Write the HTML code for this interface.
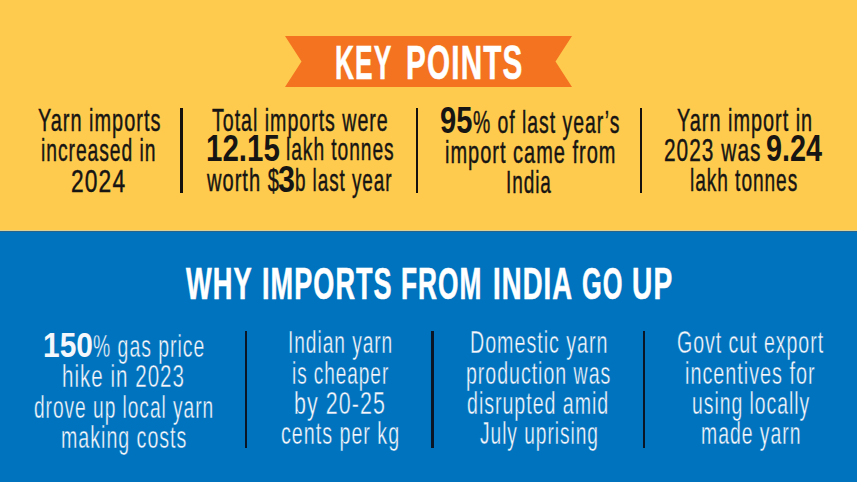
<!DOCTYPE html>
<html><head><meta charset="utf-8"><style>
html,body{margin:0;padding:0;}
body{width:857px;height:482px;overflow:hidden;position:relative;font-family:"Liberation Sans",sans-serif;background:#0073be;}
.top{position:absolute;left:0;top:0;width:857px;height:231px;background:#fecb4e;}
.bot{position:absolute;left:0;top:231px;width:857px;height:251px;background:#0073be;}
.t{position:absolute;white-space:nowrap;transform-origin:0 0;}
.b{font-weight:bold;}
.tw{-webkit-text-stroke:0.4px #0073be;}
.ty{-webkit-text-stroke:0.2px #fecb4e;}
.d{position:absolute;width:2.5px;}
svg{position:absolute;left:0;top:0;}
</style></head><body>
<div class="top"></div>
<div class="bot"></div>
<div style="position:absolute;left:0;top:230px;width:857px;height:1px;background:#d9cf98"></div>
<div style="position:absolute;left:0;top:231px;width:857px;height:1px;background:#2a6388"></div>
<svg width="857" height="482"><polygon points="285,36 572,36 555.5,61.5 572,87 285,87 301.5,61.5" fill="#f37321"/></svg>
<div class="d" style="left:180.45px;top:108.3px;height:85.1px;background:#14110e"></div>
<div class="d" style="left:415.95px;top:108.3px;height:85.1px;background:#14110e"></div>
<div class="d" style="left:639.75px;top:108.3px;height:85.1px;background:#14110e"></div>
<div class="d" style="left:244.95px;top:330.6px;height:117.3px;background:#0a1526"></div>
<div class="d" style="left:431.15px;top:330.6px;height:117.3px;background:#0a1526"></div>
<div class="d" style="left:642.55px;top:330.6px;height:117.3px;background:#0a1526"></div>
<div class="t" style="left:37.55px;top:89.50px;font-size:30.50px;line-height:61.00px;color:#171513;letter-spacing:1.525px;transform:scaleX(0.6530);-webkit-text-stroke:0.45px #171513">Yarn imports</div>
<div class="t" style="left:41.44px;top:119.80px;font-size:30.50px;line-height:61.00px;color:#171513;letter-spacing:1.525px;transform:scaleX(0.6316);-webkit-text-stroke:0.45px #171513">increased in</div>
<div class="t" style="left:70.61px;top:151.00px;font-size:30.50px;line-height:61.00px;color:#171513;letter-spacing:1.525px;transform:scaleX(0.7471);-webkit-text-stroke:0.45px #171513">2024</div>
<div class="t" style="left:212.16px;top:89.50px;font-size:30.50px;line-height:61.00px;color:#171513;letter-spacing:1.525px;transform:scaleX(0.6428);-webkit-text-stroke:0.45px #171513">Total imports were</div>
<div class="t b" style="left:206.38px;top:111.50px;font-size:36.50px;line-height:73.00px;color:#171513;letter-spacing:0.000px;transform:scaleX(0.8080);">12.15</div>
<div class="t" style="left:285.74px;top:119.30px;font-size:30.50px;line-height:61.00px;color:#171513;letter-spacing:1.525px;transform:scaleX(0.6286);-webkit-text-stroke:0.45px #171513">lakh tonnes</div>
<div class="t" style="left:206.60px;top:150.00px;font-size:30.50px;line-height:61.00px;color:#171513;letter-spacing:1.525px;transform:scaleX(0.6578);-webkit-text-stroke:0.45px #171513">worth $</div>
<div class="t b" style="left:278.47px;top:142.50px;font-size:36.50px;line-height:73.00px;color:#171513;letter-spacing:0.000px;transform:scaleX(0.8333);">3</div>
<div class="t" style="left:295.06px;top:150.00px;font-size:30.50px;line-height:61.00px;color:#171513;letter-spacing:1.525px;transform:scaleX(0.6182);-webkit-text-stroke:0.45px #171513">b last year</div>
<div class="t b" style="left:439.50px;top:84.20px;font-size:36.50px;line-height:73.00px;color:#171513;letter-spacing:0.000px;transform:scaleX(0.7974);">95</div>
<div class="t" style="left:473.16px;top:92.00px;font-size:30.50px;line-height:61.00px;color:#171513;letter-spacing:1.525px;transform:scaleX(0.6360);-webkit-text-stroke:0.45px #171513">% of last year’s</div>
<div class="t" style="left:444.89px;top:122.00px;font-size:30.50px;line-height:61.00px;color:#171513;letter-spacing:1.525px;transform:scaleX(0.6555);-webkit-text-stroke:0.45px #171513">import came from</div>
<div class="t" style="left:506.13px;top:151.80px;font-size:30.50px;line-height:61.00px;color:#171513;letter-spacing:1.525px;transform:scaleX(0.6217);-webkit-text-stroke:0.45px #171513">India</div>
<div class="t" style="left:677.35px;top:89.90px;font-size:30.50px;line-height:61.00px;color:#171513;letter-spacing:1.525px;transform:scaleX(0.6517);-webkit-text-stroke:0.45px #171513">Yarn import in</div>
<div class="t" style="left:663.63px;top:119.60px;font-size:30.50px;line-height:61.00px;color:#171513;letter-spacing:1.525px;transform:scaleX(0.6826);-webkit-text-stroke:0.45px #171513">2023 was</div>
<div class="t b" style="left:766.31px;top:112.00px;font-size:36.50px;line-height:73.00px;color:#171513;letter-spacing:0.000px;transform:scaleX(0.7886);">9.24</div>
<div class="t" style="left:690.15px;top:149.90px;font-size:30.50px;line-height:61.00px;color:#171513;letter-spacing:1.525px;transform:scaleX(0.6262);-webkit-text-stroke:0.45px #171513">lakh tonnes</div>
<div class="t b" style="left:42.81px;top:309.50px;font-size:35.50px;line-height:71.00px;color:#f4f7fb;letter-spacing:0.000px;transform:scaleX(0.8429);">150</div>
<div class="t tw" style="left:92.76px;top:315.50px;font-size:30.50px;line-height:61.00px;color:#f4f7fb;letter-spacing:1.525px;transform:scaleX(0.6372);">% gas price</div>
<div class="t tw" style="left:61.66px;top:346.40px;font-size:30.50px;line-height:61.00px;color:#f4f7fb;letter-spacing:1.525px;transform:scaleX(0.6725);">hike in 2023</div>
<div class="t tw" style="left:33.87px;top:376.70px;font-size:30.50px;line-height:61.00px;color:#f4f7fb;letter-spacing:1.525px;transform:scaleX(0.6284);">drove up local yarn</div>
<div class="t tw" style="left:60.71px;top:406.50px;font-size:30.50px;line-height:61.00px;color:#f4f7fb;letter-spacing:1.525px;transform:scaleX(0.6437);">making costs</div>
<div class="t tw" style="left:287.52px;top:312.20px;font-size:30.50px;line-height:61.00px;color:#f4f7fb;letter-spacing:1.525px;transform:scaleX(0.6273);">Indian yarn</div>
<div class="t tw" style="left:291.55px;top:342.70px;font-size:30.50px;line-height:61.00px;color:#f4f7fb;letter-spacing:1.525px;transform:scaleX(0.6230);">is cheaper</div>
<div class="t tw" style="left:293.79px;top:373.00px;font-size:30.50px;line-height:61.00px;color:#f4f7fb;letter-spacing:1.525px;transform:scaleX(0.7032);">by 20-25</div>
<div class="t tw" style="left:281.45px;top:403.20px;font-size:30.50px;line-height:61.00px;color:#f4f7fb;letter-spacing:1.525px;transform:scaleX(0.6456);">cents per kg</div>
<div class="t tw" style="left:469.61px;top:312.20px;font-size:30.50px;line-height:61.00px;color:#f4f7fb;letter-spacing:1.525px;transform:scaleX(0.6450);">Domestic yarn</div>
<div class="t tw" style="left:465.82px;top:342.70px;font-size:30.50px;line-height:61.00px;color:#f4f7fb;letter-spacing:1.525px;transform:scaleX(0.6414);">production was</div>
<div class="t tw" style="left:467.36px;top:372.80px;font-size:30.50px;line-height:61.00px;color:#f4f7fb;letter-spacing:1.525px;transform:scaleX(0.6424);">disrupted amid</div>
<div class="t tw" style="left:479.57px;top:403.00px;font-size:30.50px;line-height:61.00px;color:#f4f7fb;letter-spacing:1.525px;transform:scaleX(0.6281);">July uprising</div>
<div class="t tw" style="left:676.72px;top:312.20px;font-size:30.50px;line-height:61.00px;color:#f4f7fb;letter-spacing:1.525px;transform:scaleX(0.6403);">Govt cut export</div>
<div class="t tw" style="left:685.40px;top:342.70px;font-size:30.50px;line-height:61.00px;color:#f4f7fb;letter-spacing:1.525px;transform:scaleX(0.6492);">incentives for</div>
<div class="t tw" style="left:691.83px;top:372.80px;font-size:30.50px;line-height:61.00px;color:#f4f7fb;letter-spacing:1.525px;transform:scaleX(0.6352);">using locally</div>
<div class="t tw" style="left:701.43px;top:403.00px;font-size:30.50px;line-height:61.00px;color:#f4f7fb;letter-spacing:1.525px;transform:scaleX(0.6368);">made yarn</div>
<div class="t b" style="left:335.34px;top:14.60px;font-size:47.70px;line-height:95.40px;color:#ffffff;letter-spacing:1.908px;transform:scaleX(0.5520);-webkit-text-stroke:0.60px #ffffff">KEY</div>
<div class="t b" style="left:406.33px;top:14.60px;font-size:47.70px;line-height:95.40px;color:#ffffff;letter-spacing:1.908px;transform:scaleX(0.6220);-webkit-text-stroke:0.60px #ffffff">POINTS</div>
<div class="t b" style="left:186.30px;top:239.50px;font-size:44.30px;line-height:88.60px;color:#ffffff;letter-spacing:1.772px;transform:scaleX(0.6142);-webkit-text-stroke:0.60px #ffffff">WHY</div>
<div class="t b" style="left:261.77px;top:239.50px;font-size:44.30px;line-height:88.60px;color:#ffffff;letter-spacing:1.772px;transform:scaleX(0.6101);-webkit-text-stroke:0.60px #ffffff">IMPORTS</div>
<div class="t b" style="left:401.32px;top:239.50px;font-size:44.30px;line-height:88.60px;color:#ffffff;letter-spacing:1.772px;transform:scaleX(0.5923);-webkit-text-stroke:0.60px #ffffff">FROM</div>
<div class="t b" style="left:492.54px;top:239.50px;font-size:44.30px;line-height:88.60px;color:#ffffff;letter-spacing:1.772px;transform:scaleX(0.6202);-webkit-text-stroke:0.60px #ffffff">INDIA</div>
<div class="t b" style="left:581.56px;top:239.50px;font-size:44.30px;line-height:88.60px;color:#ffffff;letter-spacing:1.772px;transform:scaleX(0.5716);-webkit-text-stroke:0.60px #ffffff">GO</div>
<div class="t b" style="left:631.60px;top:239.50px;font-size:44.30px;line-height:88.60px;color:#ffffff;letter-spacing:1.772px;transform:scaleX(0.6339);-webkit-text-stroke:0.60px #ffffff">UP</div>
</body></html>
